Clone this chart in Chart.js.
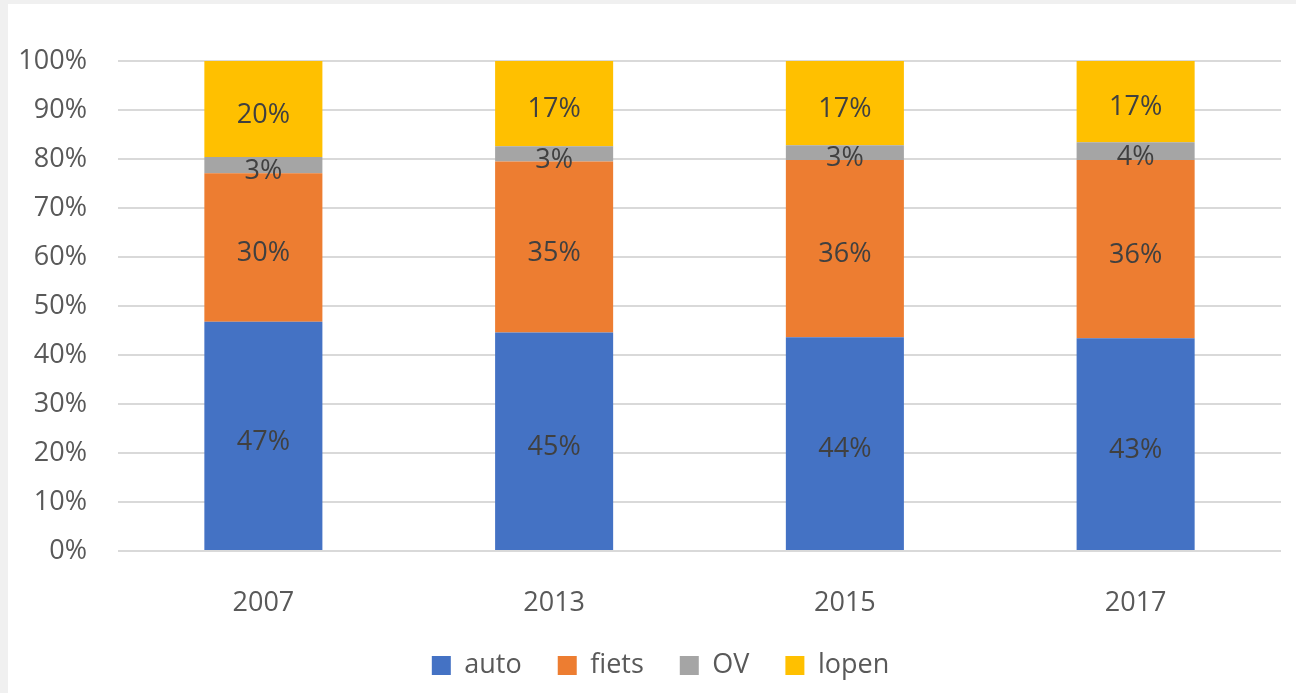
<!DOCTYPE html>
<html>
<head>
<meta charset="utf-8">
<script src="https://cdn.jsdelivr.net/npm/chart.js@4.4.1/dist/chart.umd.min.js"></script>
<style>
  html, body { margin: 0; padding: 0; background: #f0f0f0; }
  #wrap { position: absolute; left: 8px; top: 4px; width: 1288px; height: 689px; background: #ffffff; }
</style>
</head>
<body>
<div id="wrap"><canvas id="chart"></canvas></div>
<script>
// Modal split per year (share of trips, %)
const years = ['2007', '2013', '2015', '2017'];
const auto = [46.8, 44.6, 43.6, 43.4];
const fiets = [30.3, 34.9, 36.2, 36.4];
const ov = [3.3, 3.1, 3.0, 3.6];
const lopen = [19.6, 17.4, 17.2, 16.6];

const FONT = "'Open Sans', 'Noto Sans', sans-serif";

// Draw the value labels inside each segment
const segmentLabels = {
  id: 'segmentLabels',
  afterDatasetsDraw(chart) {
    const ctx = chart.ctx;
    ctx.save();
    ctx.font = '27px ' + FONT;
    ctx.fillStyle = '#404040';
    ctx.textAlign = 'center';
    ctx.textBaseline = 'middle';
    chart.data.datasets.forEach((ds, i) => {
      chart.getDatasetMeta(i).data.forEach((bar, j) => {
        const y = (bar.y + bar.base) / 2 + 6;
        ctx.fillText(Math.round(ds.data[j]) + '%', bar.x, y);
      });
    });
    ctx.restore();
  }
};

// Legend in the original sits a bit right of centre
const legendShift = {
  id: 'legendShift',
  afterLayout(chart) {
    if (chart.legend) {
      chart.legend.left += 16;
      chart.legend.right += 16;
    }
  }
};

function series(label, data, color) {
  return {
    label: label,
    data: data,
    backgroundColor: color,
    borderWidth: 0,
    barPercentage: 0.406,
    categoryPercentage: 1.0,
  };
}

new Chart(document.getElementById('chart'), {
  type: 'bar',
  data: {
    labels: years,
    datasets: [
      series('auto', auto, '#4472C4'),
      series('fiets', fiets, '#ED7D31'),
      series('OV', ov, '#A5A5A5'),
      series('lopen', lopen, '#FFC000'),
    ],
  },
  options: {
    responsive: true,
    maintainAspectRatio: false,
    animation: false,
    layout: { padding: { top: 57, right: 15, left: 0, bottom: 4 } },
    plugins: {
      legend: {
        position: 'bottom',
        maxHeight: 78,
        labels: {
          boxWidth: 19,
          boxHeight: 19,
          padding: 36,
          color: '#595959',
          font: { family: FONT, size: 27 },
        },
      },
      tooltip: { enabled: false },
    },
    scales: {
      x: {
        stacked: true,
        grid: { display: false },
        border: { display: false },
        ticks: { color: '#595959', font: { family: FONT, size: 27 }, padding: 28 },
        afterFit(scale) { scale.height = 65; },
      },
      y: {
        stacked: true,
        min: 0,
        max: 100,
        grid: { color: '#d9d9d9', lineWidth: 2, drawTicks: false },
        border: { display: false },
        ticks: {
          stepSize: 10,
          color: '#595959',
          font: { family: FONT, size: 27 },
          padding: 31,
          callback: v => v + '%',
        },
        afterFit(scale) { scale.width = 110; },
      },
    },
  },
  plugins: [segmentLabels, legendShift],
});
</script>
</body>
</html>
